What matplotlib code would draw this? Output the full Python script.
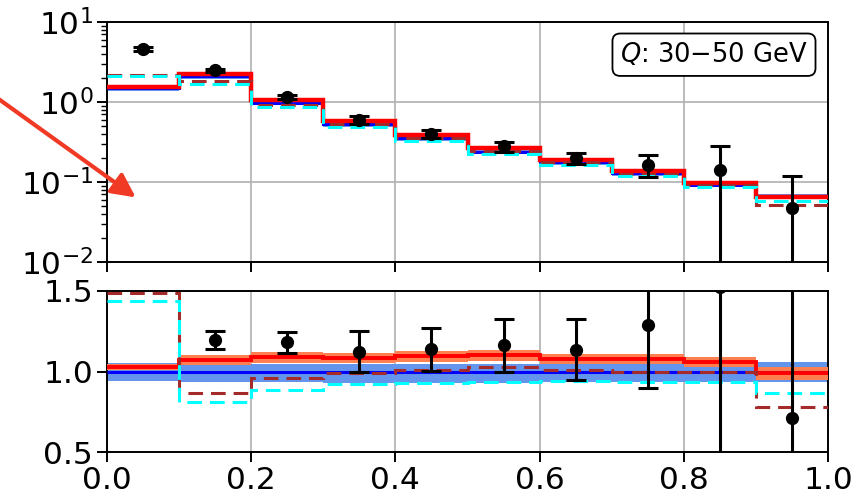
import numpy as np
import matplotlib
matplotlib.use('Agg')
import matplotlib.pyplot as plt

# binning in x
edges = np.linspace(0.0, 1.0, 11)
centers = 0.5*(edges[1:] + edges[:-1])

# reference prediction (blue), absolute values
ref = [1.48, 2.09, 0.97, 0.53, 0.35, 0.24, 0.176, 0.128, 0.092, 0.066]
ref_lo = [0.94, 0.935, 0.935, 0.93, 0.93, 0.93, 0.935, 0.935, 0.935, 0.935]
ref_hi = [1.055, 1.05, 1.045, 1.045, 1.045, 1.045, 1.045, 1.045, 1.05, 1.06]

# other predictions as ratio to the reference
red_r = [1.03, 1.07, 1.09, 1.085, 1.095, 1.10, 1.075, 1.075, 1.06, 0.99]
red_lo = [1.01, 1.04, 1.055, 1.05, 1.06, 1.065, 1.045, 1.045, 1.03, 0.945]
red_hi = [1.045, 1.10, 1.12, 1.115, 1.125, 1.135, 1.11, 1.11, 1.09, 1.025]
brown_r = [1.49, 0.865, 0.958, 0.99, 1.01, 1.03, 1.01, 0.995, 1.0, 0.78]
cyan_r = [1.44, 0.81, 0.887, 0.92, 0.93, 0.935, 0.94, 0.935, 0.935, 0.867]

# measured points
data_y = [4.6, 2.5, 1.145, 0.595, 0.398, 0.279, 0.2, 0.165, 0.14, 0.047]
data_err = [0.3, 0.12, 0.063, 0.067, 0.047, 0.04, 0.033, 0.05, 0.14, 0.073]

ref = np.array(ref)
red = ref*np.array(red_r)
brown = ref*np.array(brown_r)
cyan = ref*np.array(cyan_r)
ratio_y = np.array(data_y)/ref
ratio_err = np.array(data_err)/ref

dash = (0, (4.8, 2.6))

plt.rcParams['font.size'] = 22.5
fig = plt.figure(figsize=(8.68, 4.97), dpi=100)
ax1 = fig.add_axes([0.1233, 0.4728, 0.8306, 0.4829])
ax2 = fig.add_axes([0.1233, 0.0905, 0.8306, 0.324])

# top panel
ax1.stairs(ref*np.array(ref_hi), edges, baseline=ref*np.array(ref_lo), fill=True, color='cornflowerblue', zorder=2)
ax1.stairs(ref*np.array(red_hi), edges, baseline=ref*np.array(red_lo), fill=True, color='coral', zorder=3)
ax1.stairs(ref, edges, color='blue', lw=2.2, baseline=None, zorder=4)
ax1.stairs(red, edges, color='red', lw=3.2, baseline=None, zorder=5)
ax1.stairs(brown, edges, color='brown', lw=2.2, ls=dash, baseline=None, zorder=6)
ax1.stairs(cyan, edges, color='cyan', lw=2.2, ls=dash, baseline=None, zorder=6)
ax1.errorbar(centers, data_y, yerr=data_err, fmt='o', color='black', ms=8.5,
             elinewidth=2.2, capsize=7, capthick=2.2, zorder=10)
ax1.set_yscale('log')
ax1.set_ylim(1e-2, 1e1)
ax1.set_xlim(0, 1)
ax1.set_xticks([0.0, 0.2, 0.4, 0.6, 0.8, 1.0])
ax1.tick_params(labelbottom=False)
ax1.grid(True, color='#b0b0b0', lw=1.2)
ax1.text(0.972, 0.92, r'$Q$: 30$-$50 GeV', transform=ax1.transAxes, ha='right', va='top',
         fontsize=18.5, bbox=dict(boxstyle='round,pad=0.3', fc='white', ec='black', lw=1.3), zorder=20)

ax1.annotate('', xy=(0.043, 0.2625), xycoords='axes fraction',
             xytext=(-0.16, 0.70), textcoords='axes fraction',
             arrowprops=dict(arrowstyle='-|>', color='#f03a25', lw=3, mutation_scale=36),
             annotation_clip=False, zorder=30)

# ratio panel
ax2.stairs(ref_hi, edges, baseline=ref_lo, fill=True, color='cornflowerblue', zorder=2)
ax2.stairs(red_hi, edges, baseline=red_lo, fill=True, color='coral', zorder=3)
ax2.stairs(np.ones(10), edges, color='blue', lw=2.2, baseline=None, zorder=4)
ax2.stairs(red_r, edges, color='red', lw=2.8, baseline=None, zorder=5)
ax2.stairs(brown_r, edges, color='brown', lw=2.2, ls=dash, baseline=None, zorder=6)
ax2.stairs(cyan_r, edges, color='cyan', lw=2.2, ls=dash, baseline=None, zorder=6)
ax2.errorbar(centers, ratio_y, yerr=ratio_err, fmt='o', color='black', ms=8.5,
             elinewidth=2.2, capsize=7, capthick=2.2, zorder=10)
ax2.set_xlim(0, 1)
ax2.set_ylim(0.5, 1.5)
ax2.set_xticks([0.0, 0.2, 0.4, 0.6, 0.8, 1.0])
ax2.set_yticks([0.5, 1.0, 1.5])
ax2.grid(True, color='#b0b0b0', lw=1.2)

for ax in (ax1, ax2):
    ax.set_axisbelow(True)
    for s in ax.spines.values():
        s.set_linewidth(1.4)
    ax.tick_params(which='major', length=7, width=1.4, pad=3)
    ax.tick_params(which='minor', length=4, width=1.0)

fig.savefig('out.png', dpi=100)
